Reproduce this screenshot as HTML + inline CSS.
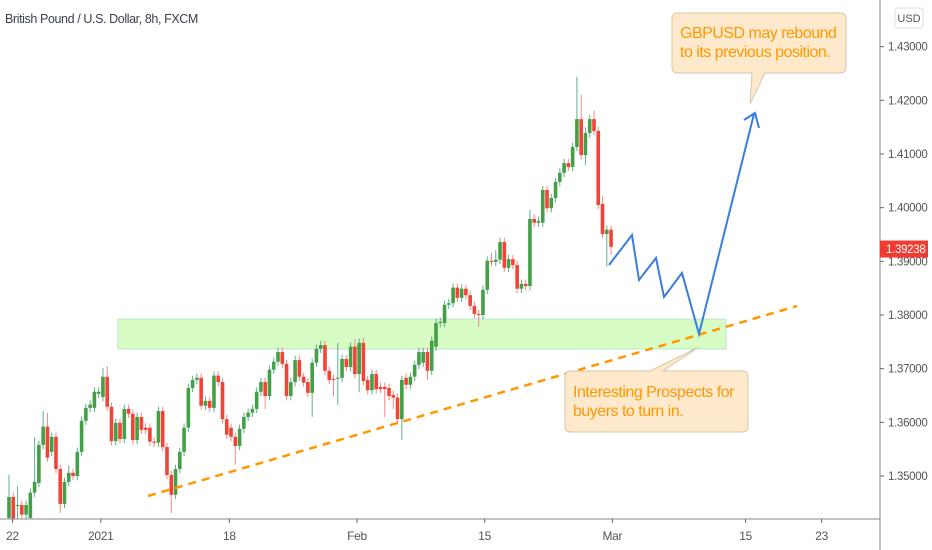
<!DOCTYPE html>
<html><head><meta charset="utf-8">
<style>
html,body{margin:0;padding:0;background:#fff;}
svg{display:block;font-family:"Liberation Sans",sans-serif;}
</style></head>
<body>
<svg id="chart" width="932" height="550" viewBox="0 0 932 550" xmlns="http://www.w3.org/2000/svg">
<rect x="0" y="0" width="932" height="550" fill="#ffffff"/>
<text x="5" y="23" font-size="12.5" fill="#3a3f4a" letter-spacing="-0.4">British Pound / U.S. Dollar, 8h, FXCM</text>
<rect x="118" y="319" width="608" height="30" fill="#d7fcc4" stroke="#b9e6cf" stroke-width="1"/>
<g id="candles"></g>
<line x1="148" y1="496" x2="797" y2="306" stroke="#ff9800" stroke-width="2.5" stroke-dasharray="8,6"/>
<polyline points="609,265 632,235 639,280 656,258 664,297 682,273 699,334 754,114" fill="none" stroke="#3b7ddd" stroke-width="2"/>
<polyline points="744,120 755,113 759,128" fill="none" stroke="#3b7ddd" stroke-width="2"/>
<g>
<path d="M678,13 H840 Q846,13 846,19 V67 Q846,73 840,73 H765 L750,104 L752,73 H678 Q672,73 672,67 V19 Q672,13 678,13 Z" fill="#ffe9cc" stroke="#d6c7a8" stroke-width="1"/>
<text x="680" y="38" font-size="16" fill="#ff9800" letter-spacing="-0.5">GBPUSD may rebound</text>
<text x="680" y="57" font-size="16" fill="#ff9800" letter-spacing="-0.5">to its previous position.</text>
</g>
<g>
<path d="M571,371 H650 L699,347 L663,371 H742 Q748,371 748,377 V426 Q748,432 742,432 H571 Q565,432 565,426 V377 Q565,371 571,371 Z" fill="#ffe9cc" stroke="#d6c7a8" stroke-width="1"/>
<text x="573" y="397" font-size="16" fill="#ff9800" letter-spacing="-0.5">Interesting Prospects for</text>
<text x="573" y="416" font-size="16" fill="#ff9800" letter-spacing="-0.5">buyers to turn in.</text>
</g>
<line x1="880" y1="0" x2="880" y2="550" stroke="#888" stroke-width="1"/>
<line x1="0" y1="519" x2="880" y2="519" stroke="#888" stroke-width="1"/>
<g id="yaxis"></g>
<g id="xaxis"></g>
<rect x="895" y="8" width="28" height="20" rx="3" fill="#fff" stroke="#ddd"/>
<text x="909" y="22" font-size="11" fill="#555" text-anchor="middle">USD</text>
<g id="lastprice"></g>
</svg>
<script>
const opens=[1.3422,1.3461,1.3446,1.3446,1.3428,1.3422,1.3469,1.3487,1.3558,1.3592,1.3545,1.3573,1.3513,1.3448,1.3489,1.3506,1.3500,1.3545,1.3603,1.3627,1.3627,1.3653,1.3647,1.3685,1.3629,1.3565,1.3599,1.3569,1.3625,1.3616,1.3567,1.3610,1.3590,1.3590,1.3564,1.3562,1.3621,1.3554,1.3502,1.3465,1.3513,1.3545,1.3590,1.3664,1.3679,1.3683,1.3631,1.3640,1.3627,1.3687,1.3675,1.3606,1.3590,1.3573,1.3556,1.3588,1.3610,1.3618,1.3625,1.3657,1.3675,1.3649,1.3698,1.3713,1.3731,1.3709,1.3649,1.3675,1.3716,1.3685,1.3675,1.3655,1.3711,1.3737,1.3744,1.3696,1.3681,1.3681,1.3683,1.3718,1.3703,1.3741,1.3690,1.3748,1.3679,1.3660,1.3690,1.3666,1.3666,1.3664,1.3651,1.3646,1.3606,1.3683,1.3670,1.3685,1.3707,1.3711,1.3731,1.3696,1.3741,1.3785,1.3785,1.3819,1.3822,1.3851,1.3832,1.3849,1.3837,1.3817,1.3802,1.3800,1.3847,1.3901,1.3899,1.3903,1.3936,1.3888,1.3904,1.3893,1.3849,1.3858,1.3854,1.3979,1.3972,1.3972,1.4033,1.3999,1.4018,1.4048,1.4065,1.4083,1.4076,1.4113,1.4165,1.4098,1.4139,1.4165,1.4143,1.4007,1.3951,1.3959];
const closes=[1.3461,1.3418,1.3446,1.3428,1.3446,1.3469,1.3489,1.3558,1.3592,1.3534,1.3573,1.3513,1.3448,1.3489,1.3506,1.3500,1.3545,1.3603,1.3627,1.3633,1.3657,1.3657,1.3685,1.3629,1.3565,1.3599,1.3569,1.3625,1.3616,1.3567,1.3610,1.3586,1.3586,1.3564,1.3562,1.3621,1.3554,1.3502,1.3465,1.3513,1.3545,1.3590,1.3664,1.3679,1.3683,1.3631,1.3640,1.3627,1.3687,1.3675,1.3606,1.3577,1.3573,1.3556,1.3588,1.3610,1.3618,1.3625,1.3657,1.3675,1.3649,1.3698,1.3713,1.3731,1.3709,1.3649,1.3675,1.3716,1.3685,1.3674,1.3655,1.3711,1.3737,1.3744,1.3696,1.3679,1.3679,1.3683,1.3718,1.3703,1.3741,1.3690,1.3748,1.3677,1.3660,1.3690,1.3662,1.3662,1.3662,1.3649,1.3646,1.3606,1.3679,1.3670,1.3685,1.3707,1.3731,1.3731,1.3696,1.3752,1.3785,1.3787,1.3819,1.3822,1.3851,1.3832,1.3849,1.3837,1.3817,1.3802,1.3800,1.3847,1.3901,1.3899,1.3903,1.3936,1.3888,1.3904,1.3893,1.3849,1.3858,1.3854,1.3979,1.3972,1.3975,1.4033,1.3999,1.4018,1.4048,1.4065,1.4083,1.4076,1.4113,1.4165,1.4098,1.4139,1.4165,1.4143,1.4005,1.3951,1.3959,1.3927];
const highs=[1.3502,1.3469,1.3481,1.3454,1.3454,1.3477,1.3573,1.3566,1.3621,1.3618,1.3581,1.3581,1.3521,1.3497,1.3520,1.3514,1.3553,1.3611,1.3635,1.3641,1.3665,1.3665,1.3701,1.3705,1.3637,1.3607,1.3607,1.3633,1.3633,1.3624,1.3618,1.3618,1.3598,1.3598,1.3572,1.3629,1.3629,1.3562,1.3510,1.3521,1.3553,1.3598,1.3672,1.3687,1.3691,1.3691,1.3648,1.3648,1.3695,1.3695,1.3683,1.3614,1.3598,1.3581,1.3596,1.3618,1.3626,1.3633,1.3665,1.3683,1.3683,1.3706,1.3721,1.3739,1.3739,1.3717,1.3683,1.3724,1.3724,1.3693,1.3683,1.3719,1.3745,1.3752,1.3752,1.3704,1.3689,1.3748,1.3726,1.3726,1.3749,1.3755,1.3756,1.3758,1.3687,1.3698,1.3698,1.3674,1.3674,1.3672,1.3659,1.3654,1.3687,1.3691,1.3693,1.3715,1.3739,1.3739,1.3739,1.3760,1.3793,1.3795,1.3827,1.3830,1.3859,1.3859,1.3857,1.3857,1.3845,1.3825,1.3810,1.3855,1.3909,1.3916,1.3921,1.3944,1.3944,1.3912,1.3912,1.3901,1.3866,1.3866,1.3996,1.3987,1.3983,1.4041,1.4041,1.4026,1.4056,1.4073,1.4091,1.4091,1.4121,1.4244,1.4210,1.4150,1.4173,1.4181,1.4151,1.4022,1.3967,1.3967];
const lows=[1.3414,1.3410,1.3420,1.3410,1.3420,1.3414,1.3461,1.3479,1.3550,1.3526,1.3537,1.3505,1.3431,1.3440,1.3481,1.3492,1.3492,1.3537,1.3595,1.3619,1.3619,1.3645,1.3639,1.3621,1.3557,1.3557,1.3561,1.3561,1.3608,1.3559,1.3559,1.3578,1.3578,1.3556,1.3554,1.3554,1.3546,1.3494,1.3431,1.3457,1.3505,1.3537,1.3582,1.3656,1.3671,1.3623,1.3623,1.3619,1.3619,1.3667,1.3598,1.3569,1.3565,1.3521,1.3548,1.3580,1.3602,1.3610,1.3617,1.3649,1.3625,1.3641,1.3690,1.3705,1.3701,1.3641,1.3641,1.3667,1.3677,1.3666,1.3647,1.3610,1.3703,1.3729,1.3688,1.3671,1.3649,1.3633,1.3675,1.3695,1.3695,1.3682,1.3656,1.3669,1.3652,1.3652,1.3654,1.3654,1.3610,1.3641,1.3625,1.3596,1.3567,1.3662,1.3662,1.3677,1.3699,1.3703,1.3679,1.3688,1.3733,1.3777,1.3777,1.3811,1.3814,1.3824,1.3824,1.3829,1.3809,1.3794,1.3778,1.3792,1.3839,1.3891,1.3891,1.3895,1.3880,1.3880,1.3885,1.3841,1.3841,1.3846,1.3846,1.3964,1.3964,1.3964,1.3991,1.3991,1.4010,1.4040,1.4057,1.4068,1.4068,1.4105,1.4090,1.4080,1.4131,1.4135,1.3997,1.3943,1.3890,1.3912];
const priceTicks=[1.43,1.42,1.41,1.40,1.39,1.38,1.37,1.36,1.35];
const timeLabels=["22","2021","18","Feb","15","Mar","15","23"];
const timeSlots=[0.8,21.5,51.6,81.5,111.4,141.3,172.5,190.3];
const lastPrice=1.39238;

const NS="http://www.w3.org/2000/svg";
function yScale(p){return 315+(1.38-p)*5367;}
function xScale(i){return 9+i*4.27;}
function mk(tag,attrs,parent){const e=document.createElementNS(NS,tag);for(const k in attrs)e.setAttribute(k,attrs[k]);parent.appendChild(e);return e;}

const cg=document.getElementById('candles');
for(let i=0;i<closes.length;i++){
  const up=closes[i]>=opens[i];
  const x=xScale(i);
  const wick=mk('line',{x1:x,x2:x,y1:Math.min(yScale(highs[i]),519),y2:Math.min(yScale(lows[i]),519),stroke:up?'#5fae8f':'#f48a84','stroke-width':1},cg);
  
  
  const yt=yScale(Math.max(opens[i],closes[i]));
  let yb=yScale(Math.min(opens[i],closes[i]));
  yb=Math.min(yb,519);
  const body=mk('rect',{x:x-1.8,y:yt,width:3.6,height:Math.max(1,yb-yt),fill:up?'#43a047':'#f44336'},cg);
  
  
}

const ya=document.getElementById('yaxis');
priceTicks.forEach(p=>{
  const y=yScale(p);
  const t=mk('line',{x1:880,x2:884,y1:y,y2:y,stroke:'#666','stroke-width':1},ya);
  
  
  const tx=mk('text',{x:888,y:y+4,'font-size':11.5,fill:'#555','letter-spacing':'-0.3'},ya);
  tx.textContent=p.toFixed(5);
  
  
});

const xa=document.getElementById('xaxis');
timeLabels.forEach((lab,k)=>{
  const x=xScale(timeSlots[k]);
  const t=mk('line',{x1:x,x2:x,y1:519,y2:523,stroke:'#666','stroke-width':1},xa);
  
  
  const tx=mk('text',{x:x,y:540,'font-size':12,fill:'#555','text-anchor':'middle','letter-spacing':'-0.3'},xa);
  tx.textContent=lab;
  
  
});

const lp=document.getElementById('lastprice');
const ly=yScale(lastPrice);
const box=mk('rect',{x:880,y:ly-8,width:48,height:17,fill:'#f23b30'},lp);


const lt=mk('text',{x:886,y:ly+4.5,'font-size':11.5,fill:'#fff','letter-spacing':'-0.3'},lp);
lt.textContent=lastPrice.toFixed(5);


</script>
</body></html>
